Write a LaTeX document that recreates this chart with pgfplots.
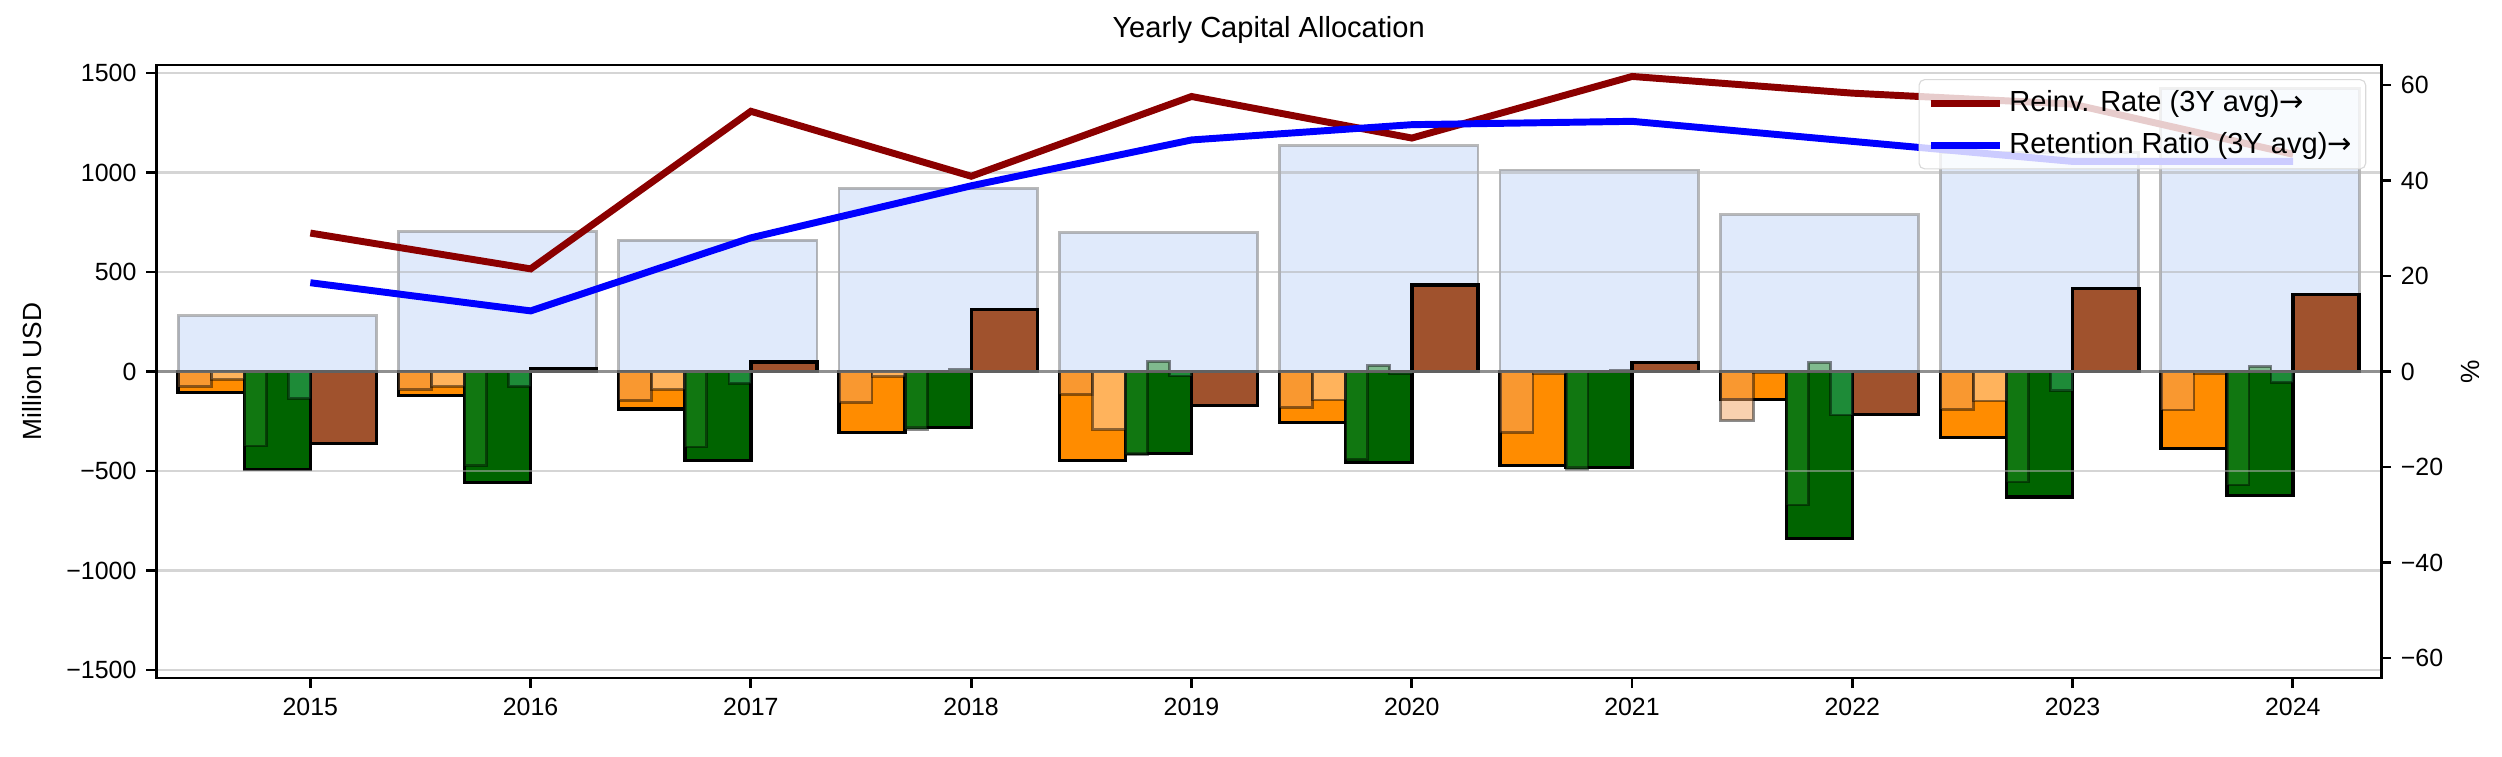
\documentclass[border=0pt]{standalone}
\usepackage{fontspec}
\setmainfont{Liberation Sans}
\newfontfamily\arrowfont{DejaVu Sans}
\usepackage{pgfplots}
\usepackage{pgfplotstable}
\pgfplotsset{compat=1.18}

\definecolor{bgblue}{RGB}{100,149,237}
\definecolor{dorange}{RGB}{255,140,0}
\definecolor{sandy}{RGB}{244,164,96}
\definecolor{peach}{RGB}{255,218,185}
\definecolor{dgreen}{RGB}{0,100,0}
\definecolor{fgreen}{RGB}{34,139,34}
\definecolor{msgreen}{RGB}{60,179,113}
\definecolor{sienna}{RGB}{160,82,45}
\definecolor{dred}{RGB}{139,0,0}

% bg = light blue bars, ot/o1/o2 = orange total and halves,
% gt/g1/g2/g3 = green total and thirds, br = brown, red/blue = lines (%)
\pgfplotstableread{
year bg   ot   o1   o2   gt   g1   g2  g3   br   red  blue
2015 280  -105 -77  -39  -491 -374 nan -136 -360 29.0 18.6
2016 703  -119 -92  -75  -558 -474 nan -75  12   21.5 12.7
2017 660  -189 -144 -89  -446 -379 nan -60  48   54.5 28.0
2018 920  -305 -156 -25  -281 -290 nan 10   313  40.9 38.9
2019 698  -446 -114 -293 -411 -416 50  -22  -169 57.6 48.5
2020 1134 -256 -181 -143 -457 -441 30  -10  434  48.9 51.7
2021 1012 -471 -307 -10  -483 -491 nan 5    45   61.8 52.4
2022 787  -141 -245 -5   -838 -670 45  -218 -215 58.3 48.2
2023 1100 -332 -189 -148 -630 -555 nan -97  417  56.0 44.0
2024 1420 -387 -193 -8   -623 -570 25  -55  388  45.5 44.0
}\data

\newcommand{\rarr}{{\arrowfont →}}

\begin{document}
\begin{tikzpicture}
\pgfplotsset{
  mainbar/.style={ybar, draw=black, line width=1.2bp, forget plot},
  subbar/.style={ybar, draw=black, draw opacity=0.45, fill opacity=0.5, line width=1bp, forget plot},
  common/.style={
    scale only axis, width=801bp, height=220.7bp,
    xmin=2014.3, xmax=2024.4,
    unbounded coords=discard,
    tick align=outside, major tick length=3.6bp,
    tick style={black, line width=1bp},
    axis line style={line width=1bp},
    tick label style={font=\fontsize{9}{11}\selectfont},
    label style={font=\fontsize{9.5}{11}\selectfont},
  },
}
\begin{axis}[
  common, name=main,
  ymin=-1540, ymax=1540,
  xtick={2015,...,2024},
  xticklabels={2015,2016,2017,2018,2019,2020,2021,2022,2023,2024},
  xtick pos=bottom, ytick pos=left,
  ytick={-1500,-1000,...,1500},
  yticklabels={−1500,−1000,−500,0,500,1000,1500},
  ymajorgrids, grid style={draw=gray!60, opacity=0.55, line width=0.8bp},
  axis on top,
  ylabel={Million USD},
  ylabel style={at={(axis description cs:-0.0557,0.5)}, anchor=center},
]
% background bars
\addplot[ybar, bar width=0.9, bar shift=-0.15, fill=bgblue, fill opacity=0.2,
  draw=gray, draw opacity=0.55, line width=1bp, forget plot] table[x=year,y=bg]{\data};
% main bars
\addplot[mainbar, fill=dorange, bar width=0.3, bar shift=-0.45] table[x=year,y=ot]{\data};
\addplot[mainbar, fill=dgreen, bar width=0.3, bar shift=-0.15] table[x=year,y=gt]{\data};
\addplot[mainbar, fill=sienna, bar width=0.3, bar shift=0.15] table[x=year,y=br]{\data};
% sub bars
\addplot[subbar, fill=sandy, bar width=0.15, bar shift=-0.525] table[x=year,y=o1]{\data};
\addplot[subbar, fill=peach, bar width=0.15, bar shift=-0.375] table[x=year,y=o2]{\data};
\addplot[subbar, fill=fgreen, bar width=0.1, bar shift=-0.25] table[x=year,y=g1]{\data};
\addplot[subbar, fill=fgreen, bar width=0.1, bar shift=-0.15] table[x=year,y=g2]{\data};
\addplot[subbar, fill=msgreen, bar width=0.1, bar shift=-0.05] table[x=year,y=g3]{\data};
% zero line
\addplot[black, opacity=0.6, line width=1.1bp, forget plot] coordinates {(2014.3,0) (2024.4,0)};
\end{axis}

\begin{axis}[
  common,
  axis x line=none,
  axis y line*=right,
  ymin=-64.2, ymax=64.2,
  ytick={-60,-40,...,60},
  yticklabels={−60,−40,−20,0,20,40,60},
  ylabel={\%},
  ylabel style={at={(axis description cs:1.040,0.5)}, anchor=center},
  legend style={at={(axis description cs:0.9933,0.977)}, anchor=north east,
    draw=black!15, rounded corners=2bp, fill=white, fill opacity=0.8, text opacity=1,
    font=\fontsize{10.5}{12}\selectfont, row sep=2bp, inner xsep=3bp, inner ysep=2bp},
  legend cell align=left,
  legend image code/.code={\draw[#1, line cap=butt] (0bp,0bp) -- (25bp,0bp);},
]
\addplot[dred, line width=2.5bp, mark=none] table[x=year,y=red]{\data};
\addlegendentry{Reinv. Rate (3Y avg)\rarr}
\addplot[blue, line width=2.5bp, mark=none] table[x=year,y=blue]{\data};
\addlegendentry{Retention Ratio (3Y avg)\rarr}
\end{axis}

\node[font=\fontsize{10.5}{12}\selectfont, anchor=center, yshift=12.6bp] at (main.north) {Yearly Capital Allocation};

\pgfresetboundingbox
\path[use as bounding box] (main.south west) ++(-56.2bp,-28.4bp) rectangle ++(900.7bp,272.5bp);
\end{tikzpicture}
\end{document}
